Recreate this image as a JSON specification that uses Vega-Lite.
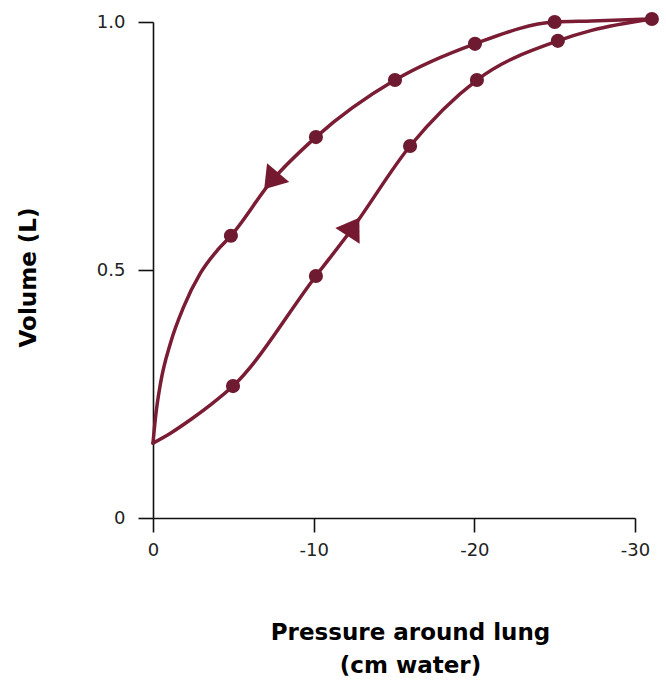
{
  "$schema": "https://vega.github.io/schema/vega-lite/v6.json",
  "width": 482,
  "height": 496,
  "autosize": "none",
  "padding": {"left": 153, "top": 22, "right": 31, "bottom": 163},
  "background": "white",
  "config": {
    "view": {"stroke": null},
    "font": "DejaVu Sans",
    "axis": {"grid": false, "domainColor": "#111", "tickColor": "#111", "domainWidth": 1.6, "tickWidth": 1.6, "labelColor": "#222", "labelFontSize": 18, "titleColor": "#000", "titleFontSize": 23, "titleFontWeight": "bold", "labelFlush": false}
  },
  "datasets": {
    "loop": [
      {"phase": "inflation", "pressure": 0, "volume": 0.151, "dot": false},
      {"phase": "inflation", "pressure": -1.09, "volume": 0.171, "dot": false},
      {"phase": "inflation", "pressure": -2.33, "volume": 0.198, "dot": false},
      {"phase": "inflation", "pressure": -3.58, "volume": 0.228, "dot": false},
      {"phase": "inflation", "pressure": -4.98, "volume": 0.266, "dot": true},
      {"phase": "inflation", "pressure": -10.14, "volume": 0.488, "dot": true},
      {"phase": "inflation", "pressure": -12.35, "volume": 0.581, "dot": false},
      {"phase": "inflation", "pressure": -16.0, "volume": 0.75, "dot": true},
      {"phase": "inflation", "pressure": -20.16, "volume": 0.883, "dot": true},
      {"phase": "inflation", "pressure": -25.2, "volume": 0.962, "dot": true},
      {"phase": "inflation", "pressure": -27.3, "volume": 0.983, "dot": false},
      {"phase": "inflation", "pressure": -31.05, "volume": 1.006, "dot": true},
      {"phase": "deflation", "pressure": -31.05, "volume": 1.006, "dot": false},
      {"phase": "deflation", "pressure": -27.3, "volume": 1.002, "dot": false},
      {"phase": "deflation", "pressure": -25.0, "volume": 1.0, "dot": true},
      {"phase": "deflation", "pressure": -20.04, "volume": 0.956, "dot": true},
      {"phase": "deflation", "pressure": -15.06, "volume": 0.883, "dot": true},
      {"phase": "deflation", "pressure": -10.14, "volume": 0.768, "dot": true},
      {"phase": "deflation", "pressure": -7.4, "volume": 0.68, "dot": false},
      {"phase": "deflation", "pressure": -4.85, "volume": 0.569, "dot": true},
      {"phase": "deflation", "pressure": -4.01, "volume": 0.54, "dot": false},
      {"phase": "deflation", "pressure": -2.96, "volume": 0.494, "dot": false},
      {"phase": "deflation", "pressure": -1.9, "volume": 0.425, "dot": false},
      {"phase": "deflation", "pressure": -1.09, "volume": 0.353, "dot": false},
      {"phase": "deflation", "pressure": -0.47, "volume": 0.272, "dot": false},
      {"phase": "deflation", "pressure": -0.16, "volume": 0.204, "dot": false},
      {"phase": "deflation", "pressure": 0, "volume": 0.151, "dot": false}
    ],
    "arrows": [
      {"phase": "deflation", "pressure": -7.5, "volume": 0.685},
      {"phase": "inflation", "pressure": -12.35, "volume": 0.581}
    ]
  },
  "layer": [
    {
      "data": {"name": "loop"},
      "mark": {"type": "line", "interpolate": "monotone", "color": "#7a1c33", "strokeWidth": 3.5, "strokeCap": "round"},
      "encoding": {
        "x": {
          "field": "pressure", "type": "quantitative",
          "scale": {"domain": [0, -30], "nice": false},
          "axis": {
            "values": [0, -10, -20, -30],
            "labelExpr": "datum.value == 0 ? '0' : '-' + format(abs(datum.value), 'd')",
            "tickSize": 14, "labelPadding": 9,
            "title": ["Pressure around lung", "(cm water)"],
            "titleX": 257, "titleY": 103, "titleAlign": "center", "titleBaseline": "top", "titleLineHeight": 33
          }
        },
        "y": {
          "field": "volume", "type": "quantitative",
          "scale": {"domain": [0, 1], "nice": false},
          "axis": {
            "values": [0, 0.5, 1],
            "labelExpr": "datum.value == 0 ? '0' : format(datum.value, '.1f')",
            "tickSize": 15, "labelPadding": 13,
            "title": "Volume (L)",
            "titleAngle": 270, "titleX": -125, "titleY": 255, "titleAlign": "center", "titleBaseline": "middle"
          }
        },
        "detail": {"field": "phase"},
        "order": {"field": "pressure", "sort": "descending"}
      }
    },
    {
      "data": {"name": "loop"},
      "transform": [{"filter": "datum.dot"}],
      "mark": {"type": "circle", "size": 200, "color": "#6e1a30", "opacity": 1},
      "encoding": {
        "x": {"field": "pressure", "type": "quantitative"},
        "y": {"field": "volume", "type": "quantitative"}
      }
    },
    {
      "data": {"name": "arrows"},
      "transform": [{"filter": "datum.phase == 'deflation'"}],
      "mark": {"type": "point", "shape": "M0,-1L1,0.5L-1,0.5Z", "size": 841, "angle": 220, "filled": true, "color": "#74192f", "opacity": 1},
      "encoding": {
        "x": {"field": "pressure", "type": "quantitative"},
        "y": {"field": "volume", "type": "quantitative"}
      }
    },
    {
      "data": {"name": "arrows"},
      "transform": [{"filter": "datum.phase == 'inflation'"}],
      "mark": {"type": "point", "shape": "M0,-1L1,0.5L-1,0.5Z", "size": 841, "angle": 33, "filled": true, "color": "#74192f", "opacity": 1},
      "encoding": {
        "x": {"field": "pressure", "type": "quantitative"},
        "y": {"field": "volume", "type": "quantitative"}
      }
    }
  ]
}
